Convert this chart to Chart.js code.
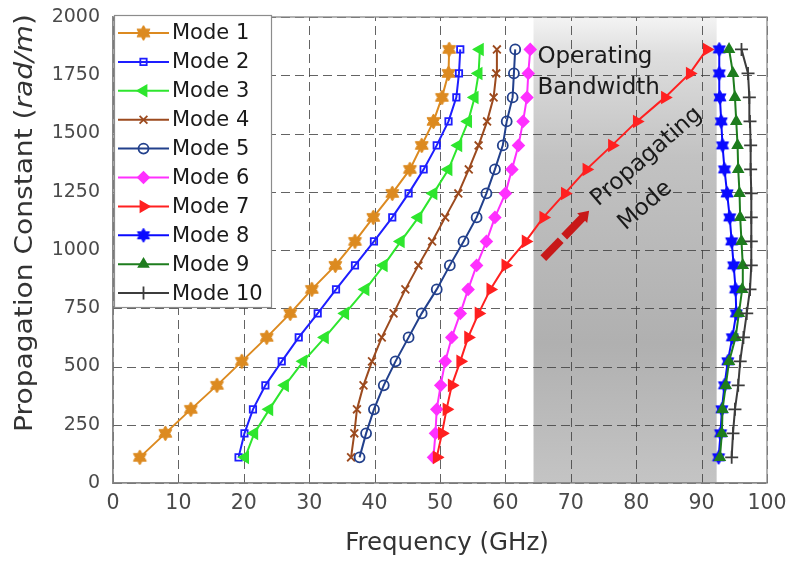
<!DOCTYPE html>
<html>
<head>
<meta charset="utf-8">
<script src="https://cdn.jsdelivr.net/npm/chart.js@4/dist/chart.umd.min.js"></script>
<style>html,body{margin:0;padding:0;background:#fff;}canvas{display:block;}</style>
</head>
<body>
<canvas id="c" width="789" height="561"></canvas>
<script>
// ---- data ----
const beta = [110, 213, 316, 419, 522, 625, 728, 831, 934, 1037, 1140, 1243, 1346, 1449, 1552, 1655, 1758, 1861];
const mode1 = [4.1, 8.0, 11.9, 15.9, 19.7, 23.5, 27.1, 30.4, 34.0, 37.0, 39.8, 42.7, 45.4, 47.2, 49.0, 50.3, 51.3, 51.4];
const mode2 = [19.2, 20.1, 21.4, 23.3, 25.8, 28.4, 31.3, 34.1, 37.0, 39.9, 42.7, 45.2, 47.5, 49.5, 51.3, 52.5, 52.9, 53.1];
const mode3 = [20.2, 21.6, 23.9, 26.3, 29.1, 32.4, 35.5, 38.6, 41.4, 44.0, 46.7, 49.0, 51.3, 52.8, 54.3, 55.3, 55.9, 56.1];
const mode4 = [36.4, 36.9, 37.3, 38.3, 39.6, 41.1, 42.9, 44.7, 46.7, 48.8, 50.8, 52.8, 54.4, 55.9, 57.2, 58.2, 58.6, 58.7];
const mode5 = [37.7, 38.7, 39.9, 41.4, 43.2, 45.2, 47.2, 49.5, 51.5, 53.6, 55.6, 57.1, 58.4, 59.6, 60.2, 61.1, 61.3, 61.5];
const mode6 = [49.0, 49.3, 49.5, 50.1, 50.8, 51.8, 53.1, 54.3, 55.6, 57.1, 58.4, 60.0, 61.0, 62.0, 62.7, 63.3, 63.5, 63.8];
const mode7 = [49.5, 50.3, 51.0, 51.8, 53.1, 54.3, 55.9, 57.7, 60.0, 63.1, 65.8, 69.1, 72.4, 76.3, 80.1, 84.4, 88.2, 90.8];
const mode8 = [92.6, 92.9, 93.1, 93.5, 94.0, 94.7, 95.3, 95.2, 94.9, 94.6, 94.3, 93.9, 93.5, 93.2, 93.0, 92.8, 92.7, 92.7];
const mode9 = [92.8, 93.1, 93.2, 93.7, 94.2, 95.2, 95.7, 96.2, 96.3, 96.1, 95.9, 95.8, 95.6, 95.5, 95.3, 95.1, 94.8, 94.2];
const mode10 = [94.6, 94.8, 95.1, 95.6, 95.9, 96.4, 96.9, 97.4, 97.6, 97.6, 97.6, 97.6, 97.5, 97.5, 97.4, 97.3, 97.1, 96.1];
const seriesLabels = ['Mode 1', 'Mode 2', 'Mode 3', 'Mode 4', 'Mode 5', 'Mode 6', 'Mode 7', 'Mode 8', 'Mode 9', 'Mode 10'];
const xTickValues = [0, 10, 20, 30, 40, 50, 60, 70, 80, 90, 100];
const yTickValues = [0, 250, 500, 750, 1000, 1250, 1500, 1750, 2000];
const bandRange = [64.3, 92.3];

// ---- styles ----
function hexagram(color, r) {
  const s = Math.ceil(r * 2 + 4);
  const cv = document.createElement('canvas');
  cv.width = s; cv.height = s;
  const g = cv.getContext('2d');
  g.translate(s / 2, s / 2);
  g.beginPath();
  for (let k = 0; k < 12; k++) {
    const a = -Math.PI / 2 + k * Math.PI / 6;
    const rr = k % 2 === 0 ? r : r * 0.58;
    g.lineTo(rr * Math.cos(a), rr * Math.sin(a));
  }
  g.closePath();
  g.fillStyle = color; g.fill();
  g.lineWidth = 1; g.strokeStyle = color; g.stroke();
  return cv;
}
const NONE = 'rgba(0,0,0,0)';
const styles = [
  {color: '#DC8A20', point: hexagram('#DC8A20', 7.5), fill: '#DC8A20', r: 7, rot: 0},
  {color: '#1E1EFF', point: 'rect', fill: NONE, r: 4.5, rot: 0},
  {color: '#2EE62E', point: 'triangle', fill: '#2EE62E', r: 6, rot: -90},
  {color: '#9C4A1E', point: 'crossRot', fill: NONE, r: 5.5, rot: 0},
  {color: '#22408C', point: 'circle', fill: NONE, r: 5, rot: 0},
  {color: '#FF30FF', point: 'rectRot', fill: '#FF30FF', r: 5.5, rot: 0},
  {color: '#FF2020', point: 'triangle', fill: '#FF2020', r: 6, rot: 90},
  {color: '#0A0AFF', point: hexagram('#0A0AFF', 7), fill: '#0A0AFF', r: 7, rot: 0},
  {color: '#1E7D1E', point: 'triangle', fill: '#1E7D1E', r: 5.5, rot: 0},
  {color: '#3C3C3C', point: 'cross', fill: NONE, r: 6.5, rot: 0}
];
const modes = [mode1, mode2, mode3, mode4, mode5, mode6, mode7, mode8, mode9, mode10];

const datasets = modes.map((m, i) => ({
  label: seriesLabels[i],
  data: m.map((f, j) => ({x: f, y: beta[j]})),
  showLine: true,
  borderColor: styles[i].color,
  borderWidth: 2,
  pointStyle: styles[i].point,
  pointRadius: styles[i].r,
  pointRotation: styles[i].rot,
  pointBackgroundColor: styles[i].fill,
  pointBorderColor: styles[i].color,
  pointBorderWidth: 1.8,
  tension: 0,
  order: 10 - i
}));

const FONT = '"DejaVu Sans", sans-serif';
Chart.defaults.font.family = FONT;

const bandPlugin = {
  id: 'band',
  beforeDraw(chart) {
    const {ctx, chartArea: ca, scales: {x}} = chart;
    const x1 = x.getPixelForValue(bandRange[0]);
    const x2 = x.getPixelForValue(bandRange[1]);
    const g = ctx.createLinearGradient(0, ca.top, 0, ca.bottom);
    g.addColorStop(0, '#f4f4f4');
    g.addColorStop(0.08, '#dedede');
    g.addColorStop(0.3, '#c2c2c2');
    g.addColorStop(0.7, '#b0b0b0');
    g.addColorStop(1, '#c4c4c4');
    ctx.save();
    ctx.fillStyle = g;
    ctx.fillRect(x1, ca.top, x2 - x1, ca.bottom - ca.top);
    ctx.restore();
  },
  beforeDatasetsDraw(chart) {
    const {ctx, chartArea: ca, scales: {x, y}} = chart;
    ctx.save();
    ctx.strokeStyle = 'rgba(60,60,60,0.8)';
    ctx.lineWidth = 1;
    ctx.setLineDash([9, 5]);
    xTickValues.forEach(v => {
      const px = Math.round(x.getPixelForValue(v)) + 0.5;
      ctx.beginPath(); ctx.moveTo(px, ca.bottom); ctx.lineTo(px, ca.top); ctx.stroke();
    });
    yTickValues.forEach(v => {
      const py = Math.round(y.getPixelForValue(v)) + 0.5;
      ctx.beginPath(); ctx.moveTo(ca.left, py); ctx.lineTo(ca.right, py); ctx.stroke();
    });
    ctx.restore();
  }
};

const annotPlugin = {
  id: 'annot',
  afterDatasetsDraw(chart) {
    const {ctx, chartArea: ca, scales: {x, y}} = chart;
    ctx.save();
    // frame
    ctx.strokeStyle = '#8a8a8a';
    ctx.lineWidth = 1.3;
    ctx.strokeRect(ca.left, ca.top, ca.right - ca.left, ca.bottom - ca.top);
    // Operating Bandwidth
    ctx.fillStyle = '#1a1a1a';
    ctx.font = '23px ' + FONT;
    ctx.textAlign = 'left';
    ctx.textBaseline = 'middle';
    ctx.fillText('Operating', x.getPixelForValue(64.9), y.getPixelForValue(1828));
    ctx.fillText('Bandwidth', x.getPixelForValue(64.9), y.getPixelForValue(1695));
    // Propagating Mode (rotated)
    const rot = -41 * Math.PI / 180;
    [['Propagating', 81.6, 1400], ['Mode', 81.4, 1190]].forEach(([t, fx, fy]) => {
      ctx.save();
      ctx.translate(x.getPixelForValue(fx), y.getPixelForValue(fy));
      ctx.rotate(rot);
      ctx.textAlign = 'center';
      ctx.textBaseline = 'middle';
      ctx.fillText(t, 0, 0);
      ctx.restore();
    });
    // red arrow
    const ax1 = x.getPixelForValue(65.8), ay1 = y.getPixelForValue(965);
    const ax2 = x.getPixelForValue(72.8), ay2 = y.getPixelForValue(1168);
    const ang = Math.atan2(ay2 - ay1, ax2 - ax1);
    const len = Math.hypot(ax2 - ax1, ay2 - ay1);
    ctx.save();
    ctx.translate(ax1, ay1);
    ctx.rotate(ang);
    ctx.fillStyle = '#C81818';
    ctx.fillRect(0, -4, 25, 8);
    ctx.beginPath();
    ctx.moveTo(30, -4); ctx.lineTo(len - 10, -4); ctx.lineTo(len - 10, -7); ctx.lineTo(len, 0);
    ctx.lineTo(len - 10, 7); ctx.lineTo(len - 10, 4); ctx.lineTo(30, 4); ctx.closePath();
    ctx.fill();
    ctx.restore();
    ctx.restore();
  },
  afterDraw(chart) {
    const {ctx, chartArea: ca} = chart;
    ctx.save();
    // legend box
    const x0 = ca.left + 1, y0 = ca.top - 2, w = 157, h = 292;
    ctx.fillStyle = '#ffffff';
    ctx.fillRect(x0, y0, w, h);
    ctx.strokeStyle = '#8c8c8c';
    ctx.lineWidth = 1.2;
    ctx.strokeRect(x0 + 0.5, y0 + 0.5, w, h);
    chart.data.datasets.forEach((ds, i) => {
      const yy = y0 + 18 + i * 28.9;
      ctx.strokeStyle = ds.borderColor;
      ctx.lineWidth = 2;
      ctx.setLineDash([]);
      ctx.beginPath(); ctx.moveTo(x0 + 4, yy); ctx.lineTo(x0 + 55, yy); ctx.stroke();
      ctx.fillStyle = ds.pointBackgroundColor;
      ctx.strokeStyle = ds.pointBorderColor;
      ctx.lineWidth = ds.pointBorderWidth;
      Chart.helpers.drawPoint(ctx, {pointStyle: ds.pointStyle, rotation: ds.pointRotation || 0,
        radius: ds.pointRadius, borderWidth: ds.pointBorderWidth}, x0 + 29.5, yy);
      ctx.fillStyle = '#1a1a1a';
      ctx.font = '21px ' + FONT;
      ctx.textAlign = 'left';
      ctx.textBaseline = 'middle';
      ctx.fillText(ds.label, x0 + 58, yy + 1);
    });
    // y title (mixed upright / italic)
    const parts = [['Propagation Constant (', ''], ['rad/m', 'italic '], [')', '']];
    const fs = 24;
    let total = 0;
    parts.forEach(p => { ctx.font = p[1] + fs + 'px ' + FONT; total += ctx.measureText(p[0]).width; });
    ctx.translate(32, 223);
    ctx.rotate(-Math.PI / 2);
    ctx.scale(1.17, 1);
    ctx.fillStyle = '#333333';
    ctx.textAlign = 'left';
    ctx.textBaseline = 'alphabetic';
    let cx = -total / 2;
    parts.forEach(p => { ctx.font = p[1] + fs + 'px ' + FONT; ctx.fillText(p[0], cx, 0); cx += ctx.measureText(p[0]).width; });
    ctx.restore();
    // x title
    ctx.save();
    ctx.fillStyle = '#333333';
    ctx.font = '24.5px ' + FONT;
    ctx.textAlign = 'center';
    ctx.textBaseline = 'alphabetic';
    ctx.fillText('Frequency (GHz)', 447, 550);
    ctx.restore();
  }
};

const hiddenGrid = (len) => ({display: true, color: NONE, drawOnChartArea: false, drawTicks: true,
                              tickLength: len, tickColor: NONE});

new Chart(document.getElementById('c'), {
  type: 'scatter',
  data: {datasets},
  options: {
    responsive: false,
    animation: false,
    devicePixelRatio: 1,
    layout: {padding: {left: 0, right: 22, top: 17, bottom: 0}},
    plugins: {legend: {display: false}, tooltip: {enabled: false}},
    scales: {
      x: {
        type: 'linear', min: 0, max: 100,
        afterBuildTicks: s => { s.ticks = xTickValues.map(v => ({value: v})); },
        afterFit: s => { s.height = 78; },
        ticks: {color: '#4a4a4a', font: {size: 20.5}, padding: 0, maxRotation: 0, autoSkip: false,
                callback: v => String(v)},
        grid: hiddenGrid(8),
        border: {display: true, color: '#8a8a8a', width: 1.3},
        title: {display: false}
      },
      y: {
        type: 'linear', min: 0, max: 2000,
        afterBuildTicks: s => { s.ticks = yTickValues.map(v => ({value: v})); },
        afterFit: s => { s.width = 113; },
        ticks: {color: '#4a4a4a', font: {size: 19}, padding: 0, autoSkip: false,
                callback: v => String(v)},
        grid: hiddenGrid(13),
        border: {display: true, color: '#8a8a8a', width: 1.3},
        title: {display: false}
      }
    }
  },
  plugins: [bandPlugin, annotPlugin]
});
</script>
</body>
</html>
